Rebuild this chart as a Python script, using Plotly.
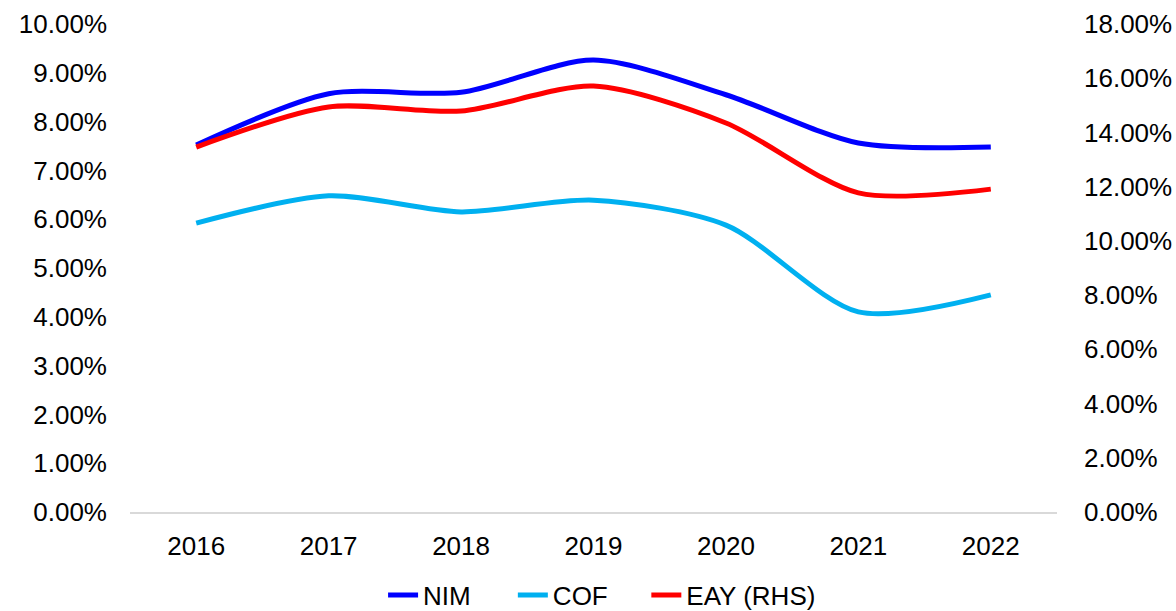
import plotly.graph_objects as go

years = ["2016", "2017", "2018", "2019", "2020", "2021", "2022"]
nim = [7.52, 8.57, 8.60, 9.26, 8.55, 7.56, 7.48]
cof = [5.92, 6.48, 6.15, 6.39, 5.88, 4.10, 4.45]
eay = [13.46, 14.94, 14.79, 15.71, 14.35, 11.77, 11.91]

left_ticks = [i for i in range(0, 11)]
right_ticks = [i * 2 for i in range(0, 10)]

fig = go.Figure()
fig.add_trace(go.Scatter(x=years, y=nim, name="NIM", mode="lines", legend="legend",
                         line=dict(color="#0000FF", width=5, shape="spline", smoothing=0.8)))
fig.add_trace(go.Scatter(x=years, y=cof, name="COF", mode="lines", legend="legend2",
                         line=dict(color="#00B0F0", width=5, shape="spline", smoothing=0.8)))
fig.add_trace(go.Scatter(x=years, y=eay, name="EAY (RHS)", mode="lines", yaxis="y2",
                         legend="legend3",
                         line=dict(color="#FF0000", width=5, shape="spline", smoothing=0.8)))

leg_common = dict(orientation="h", xanchor="left", y=-0.122, yanchor="top",
                  font=dict(size=26), bgcolor="rgba(0,0,0,0)")

fig.update_layout(
    width=1176, height=611,
    margin=dict(l=130, r=119, t=24, b=99, autoexpand=False),
    paper_bgcolor="white", plot_bgcolor="white",
    font=dict(family="Liberation Sans, Arial", size=26, color="black"),
    xaxis=dict(type="category", range=[-0.5, 6.5], showgrid=False, showline=True,
               linecolor="#D9D9D9", linewidth=1.5, ticks="", ticklabelstandoff=10,
               automargin=False),
    yaxis=dict(range=[0, 10], tickvals=left_ticks,
               ticktext=[f"{v:.2f}%" for v in left_ticks],
               showgrid=False, zeroline=False, ticks="", ticklabelstandoff=22,
               automargin=False),
    yaxis2=dict(range=[0, 18], tickvals=right_ticks,
                ticktext=[f"{v:.2f}%" for v in right_ticks],
                overlaying="y", side="right", showgrid=False, zeroline=False, ticks="",
                ticklabelstandoff=26, automargin=False),
    legend=dict(x=0.273, **leg_common),
    legend2=dict(x=0.413, **leg_common),
    legend3=dict(x=0.557, **leg_common),
    showlegend=True,
)

fig.write_html("out.html", config={"displayModeBar": False},
               post_script="document.body.style.margin='0';")
